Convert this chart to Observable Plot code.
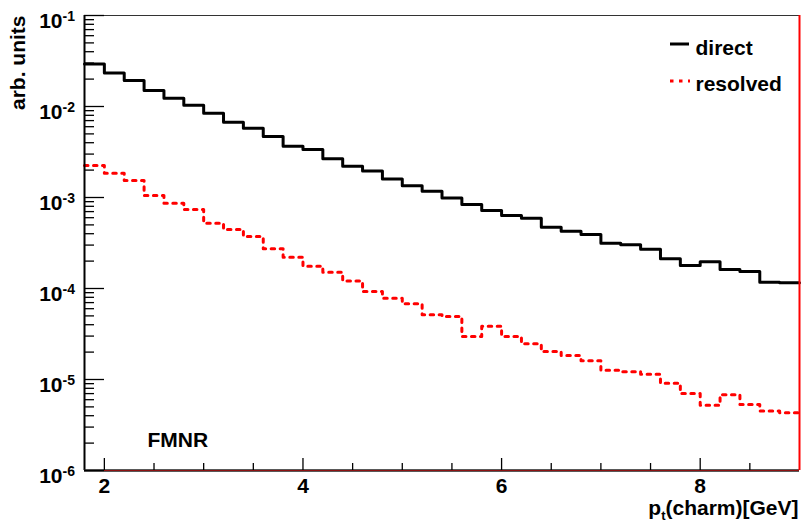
<!DOCTYPE html>
<html><head><meta charset="utf-8">
<script src="https://cdn.jsdelivr.net/npm/d3@7"></script>
<script src="https://cdn.jsdelivr.net/npm/@observablehq/plot@0.6"></script>
<style>html,body{margin:0;padding:0;background:#fff}#chart svg{display:block}</style>
</head><body><div id="chart"></div>
<script>
// ---- data ----
const binLowEdges = [1.8,2.0,2.2,2.4,2.6,2.8,3.0,3.2,3.4,3.6,3.8,4.0,4.2,4.4,4.6,4.8,5.0,5.2,5.4,5.6,5.8,6.0,6.2,6.4,6.6,6.8,7.0,7.2,7.4,7.6,7.8,8.0,8.2,8.4,8.6,8.8];
const binUpperEdge = 9.0;
const direct = [0.0294,0.0234,0.0193,0.0150,0.0123,0.0103,0.00844,0.00673,0.00578,0.00468,0.00366,0.00336,0.00266,0.00221,0.00195,0.00160,0.00135,0.00117,0.00099,0.000837,0.000719,0.000634,0.000592,0.000472,0.000427,0.000392,0.000315,0.000302,0.000270,0.000212,0.000179,0.000197,0.000162,0.000154,0.000117,0.000116];
const resolved = [0.00225,0.00185,0.00154,0.00105,0.000867,0.000738,0.000522,0.000445,0.000372,0.000273,0.000221,0.000176,0.000151,0.000121,0.0000927,0.0000782,0.0000679,0.0000514,0.0000492,0.0000297,0.0000385,0.0000297,0.0000247,0.0000203,0.0000183,0.0000161,0.0000126,0.0000122,0.0000114,0.0000091,0.0000070,0.0000052,0.0000068,0.0000053,0.0000045,0.0000043];
const seriesNames = ["direct","resolved"];
const yDecades = [1e-1,1e-2,1e-3,1e-4,1e-5,1e-6];
const yDecadeExponents = ["-1","-2","-3","-4","-5","-6"];
const xMajorTicks = [2,4,6,8];
const xMinorTicks = [2.5,3,3.5,4.5,5,5.5,6.5,7,7.5,8.5];
const xDomain = [1.8, 9.0];
const yDomain = [1e-6, 1e-1];
const annotation = "FMNR";
const xTitleMain = "p";
const xTitleSub = "t";
const xTitleRest = "(charm)[GeV]";
const yTitle = "arb. units";

// ---- layout ----
const W = 803, H = 524, mL = 84, mR = 4, mT = 15, mB = 54;
const frameW = W - mL - mR, frameH = H - mT - mB;
const font = "'Liberation Sans', Arial, Helvetica, sans-serif";

const yMinor = [];
yDecades.slice(1).forEach(d => { for (let k = 2; k <= 9; k++) yMinor.push(k * d); });

const steps = vals => binLowEdges.map((x, i) => ({x, y: vals[i]})).concat([{x: binUpperEdge, y: vals[vals.length - 1]}]);

const bold = {fontWeight: "bold", fill: "black", lineAnchor: "middle"};

const chart = Plot.plot({
  width: W, height: H,
  marginLeft: mL, marginRight: mR, marginTop: mT, marginBottom: mB,
  style: {fontFamily: font, background: "white", color: "black"},
  x: {domain: xDomain, axis: null},
  y: {type: "log", domain: yDomain, axis: null},
  marks: [
    // histograms
    Plot.line(steps(direct), {x: "x", y: "y", curve: "step-after", stroke: "black", strokeWidth: 3}),
    Plot.line(steps(resolved), {x: "x", y: "y", curve: "step-after", stroke: "#ff0000", strokeWidth: 3, strokeDasharray: "3.5,5.5"}),
    // frame
    Plot.ruleY([yDomain[1]], {stroke: "#333", strokeWidth: 1}),
    Plot.ruleX([xDomain[0]], {stroke: "black", strokeWidth: 2}),
    Plot.ruleY([yDomain[0]], {stroke: "#222", strokeWidth: 2.5}),
    Plot.ruleY([yDomain[0]], {stroke: "#ff0000", strokeWidth: 0.7, strokeOpacity: 0.7}),
    Plot.ruleX([xDomain[1]], {stroke: "#ff0000", strokeWidth: 2}),
    // y ticks
    Plot.tickY(yDecades, {y: d => d, stroke: "black", strokeWidth: 1.3, insetRight: frameW - 20}),
    Plot.tickY(yMinor, {y: d => d, stroke: "black", strokeWidth: 1.3, insetRight: frameW - 10}),
    // x ticks
    Plot.tickX(xMajorTicks, {x: d => d, stroke: "black", strokeWidth: 1.3, insetTop: frameH - 12}),
    Plot.tickX(xMinorTicks, {x: d => d, stroke: "black", strokeWidth: 1.3, insetTop: frameH - 7}),
    // y tick labels
    Plot.text(yDecades, {y: d => d, frameAnchor: "left", text: () => "10", textAnchor: "end", dx: -22, dy: 6, fontSize: 21, ...bold}),
    Plot.text(yDecades, {y: d => d, frameAnchor: "left", text: (d, i) => yDecadeExponents[i], textAnchor: "start", dx: -22, dy: 1, fontSize: 14, ...bold}),
    // x tick labels
    Plot.text(xMajorTicks, {x: d => d, frameAnchor: "bottom", text: d => String(d), dy: 16, fontSize: 21, ...bold}),
    // x title
    Plot.text([xTitleMain + xTitleSub + xTitleRest], {frameAnchor: "bottom-right", text: d => d, textAnchor: "end", dx: -1, dy: 38, fontSize: 21, ...bold}),
    // y title
    Plot.text([yTitle], {frameAnchor: "top-left", text: d => d, textAnchor: "end", rotate: -90, dx: -66, dy: 0, fontSize: 21, ...bold}),
    // annotation
    Plot.text([annotation], {frameAnchor: "bottom-left", text: d => d, textAnchor: "start", dx: 63, dy: -30, fontSize: 21, ...bold}),
    // legend labels
    Plot.text([seriesNames[0]], {frameAnchor: "top-left", text: d => d, textAnchor: "start", dx: 611, dy: 33, fontSize: 21, ...bold}),
    Plot.text([seriesNames[1]], {frameAnchor: "top-left", text: d => d, textAnchor: "start", dx: 611, dy: 69, fontSize: 21, ...bold})
  ]
});

document.getElementById("chart").appendChild(chart);

// subscript in x title
const svg = d3.select(chart);
svg.selectAll("text").filter(function () { return this.textContent === xTitleMain + xTitleSub + xTitleRest; })
  .each(function () {
    const t = d3.select(this);
    t.text(null);
    t.append("tspan").text(xTitleMain);
    t.append("tspan").attr("font-size", 13).attr("dy", 5).text(xTitleSub);
    t.append("tspan").attr("dy", -5).text(xTitleRest);
  });

// legend swatches
const lg = svg.append("g");
lg.append("line").attr("x1", 670).attr("x2", 689).attr("y1", 44).attr("y2", 44)
  .attr("stroke", "black").attr("stroke-width", 3);
lg.append("line").attr("x1", 670).attr("x2", 690).attr("y1", 81).attr("y2", 81)
  .attr("stroke", "#ff0000").attr("stroke-width", 3).attr("stroke-dasharray", "3.5,5.5");
</script>
</body></html>
